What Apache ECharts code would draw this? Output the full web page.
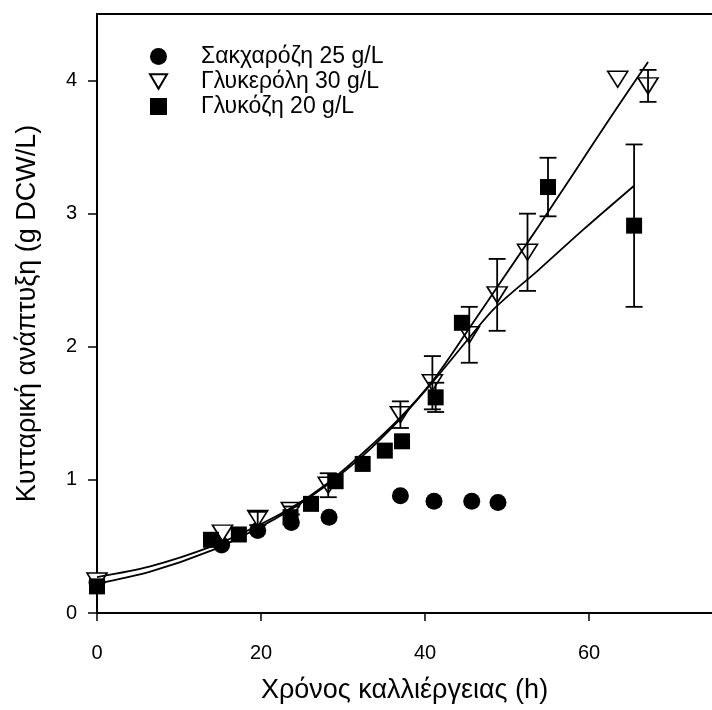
<!DOCTYPE html>
<html>
<head>
<meta charset="utf-8">
<script src="https://cdn.jsdelivr.net/npm/echarts@6/dist/echarts.min.js"></script>
<style>
html, body { margin: 0; padding: 0; background: #fff; }
#chart { width: 712px; height: 710px; }
</style>
</head>
<body>
<div id="chart"></div>
<script>
var FONT = '"Liberation Sans", Arial, sans-serif';

// axis ticks
var xTicks = [0, 20, 40, 60];
var yTicks = [0, 1, 2, 3, 4];

// legend names
var names = ['Σακχαρόζη 25 g/L', 'Γλυκερόλη 30 g/L', 'Γλυκόζη 20 g/L'];

// sucrose 25 g/L
var sucroseX = [0, 15.2, 19.6, 23.7, 28.3, 37.0, 41.1, 45.7, 48.9];
var sucroseY = [0.23, 0.51, 0.62, 0.68, 0.72, 0.88, 0.84, 0.84, 0.83];

// glycerol 30 g/L
var glycerolX = [0, 15.3, 19.6, 23.7, 28.2, 37.0, 40.9, 45.4, 48.8, 52.5, 63.5, 67.2];
var glycerolY = [0.24, 0.60, 0.71, 0.77, 0.96, 1.49, 1.73, 2.09, 2.39, 2.71, 4.01, 3.96];
var glycerolErr = [0, 0, 0.05, 0.03, 0.09, 0.10, 0.20, 0.21, 0.27, 0.29, 0, 0.12];

// glucose 20 g/L
var glucoseX = [0, 13.9, 17.3, 23.6, 26.1, 29.1, 32.4, 35.1, 37.2, 41.3, 44.5, 55.0, 65.5];
var glucoseY = [0.20, 0.55, 0.59, 0.72, 0.82, 0.99, 1.12, 1.22, 1.29, 1.62, 2.18, 3.20, 2.91];
var glucoseErr = [0, 0, 0, 0, 0, 0, 0, 0, 0, 0.11, 0, 0.22, 0.61];

// fitted curves
var glycerolFitX = [0, 6.5, 14, 19.4, 23.7, 28, 32.4, 36.7, 41, 45.3, 49.6, 53.9, 58.2, 62.6, 67.2];
var glycerolFitY = [0.27, 0.35, 0.50, 0.65, 0.79, 0.97, 1.20, 1.45, 1.75, 2.13, 2.52, 2.91, 3.31, 3.72, 4.14];
var glucoseFitX = [0, 6.5, 14, 19.4, 23.7, 28, 32.4, 36.7, 41, 45.3, 48.5, 53.9, 59.3, 65.5];
var glucoseFitY = [0.22, 0.31, 0.47, 0.63, 0.78, 0.96, 1.18, 1.44, 1.74, 2.06, 2.29, 2.58, 2.88, 3.21];

var TRIANGLE = 'path://M0,0L20,0L10,17Z';

function pairs(xs, ys) {
    var out = [];
    for (var i = 0; i < xs.length; i++) out.push([xs[i], ys[i]]);
    return out;
}

function errorBars(xs, ys, errs) {
    var data = [];
    for (var i = 0; i < xs.length; i++) {
        if (errs[i] > 0) data.push([xs[i], ys[i], errs[i]]);
    }
    return {
        type: 'custom',
        data: data,
        z: 6,
        silent: true,
        encode: { x: 0, y: 1 },
        renderItem: function (params, api) {
            var x = api.value(0), y = api.value(1), e = api.value(2);
            var top = api.coord([x, y + e]);
            var bot = api.coord([x, y - e]);
            var hw = 8.5;
            var style = { stroke: '#000', lineWidth: 1.8 };
            return {
                type: 'group',
                children: [
                    { type: 'line', shape: { x1: top[0], y1: top[1], x2: bot[0], y2: bot[1] }, style: style },
                    { type: 'line', shape: { x1: top[0] - hw, y1: top[1], x2: top[0] + hw, y2: top[1] }, style: style },
                    { type: 'line', shape: { x1: bot[0] - hw, y1: bot[1], x2: bot[0] + hw, y2: bot[1] }, style: style }
                ]
            };
        }
    };
}

function fitLine(xs, ys) {
    return {
        type: 'line',
        data: pairs(xs, ys),
        smooth: 0.3,
        symbol: 'none',
        z: 5,
        silent: true,
        lineStyle: { color: '#000', width: 1.8 }
    };
}

var chart = echarts.init(document.getElementById('chart'));

chart.setOption({
    animation: false,
    backgroundColor: '#fff',
    textStyle: { fontFamily: FONT },
    grid: { left: 97, top: 14, width: 621, height: 599, containLabel: false },
    legend: {
        data: names,
        orient: 'vertical',
        left: 144,
        top: 40,
        itemWidth: 17,
        itemHeight: 17,
        itemGap: 2,
        selectedMode: false,
        textStyle: { fontFamily: FONT, fontSize: 23, color: '#000', padding: [0, 0, 0, 29] }
    },
    xAxis: [{
        type: 'value',
        min: 0,
        max: 75,
        position: 'bottom',
        name: 'Χρόνος καλλιέργειας (h)',
        nameLocation: 'middle',
        nameGap: 64,
        nameTextStyle: { fontFamily: FONT, fontSize: 27, color: '#000' },
        axisLine: { onZero: false, lineStyle: { color: '#000', width: 2 } },
        axisTick: { customValues: xTicks, length: 8, lineStyle: { color: '#000', width: 1.5 } },
        axisLabel: { customValues: xTicks, margin: 30, fontFamily: FONT, fontSize: 20, color: '#000' },
        splitLine: { show: false }
    }, {
        type: 'value',
        min: 0,
        max: 75,
        position: 'top',
        axisLine: { onZero: false, lineStyle: { color: '#000', width: 2 } },
        axisTick: { show: false },
        axisLabel: { show: false },
        splitLine: { show: false }
    }],
    yAxis: {
        type: 'value',
        min: 0,
        max: 4.5,
        name: 'Κυτταρική ανάπτυξη (g DCW/L)',
        nameLocation: 'middle',
        nameGap: 56,
        nameTextStyle: { fontFamily: FONT, fontSize: 27, color: '#000' },
        axisLine: { onZero: false, lineStyle: { color: '#000', width: 2 } },
        axisTick: { customValues: yTicks, length: 9, lineStyle: { color: '#000', width: 1.5 } },
        axisLabel: { customValues: yTicks, margin: 20, fontFamily: FONT, fontSize: 20, color: '#000' },
        splitLine: { show: false }
    },
    series: [{
        name: names[0],
        type: 'scatter',
        data: pairs(sucroseX, sucroseY),
        symbol: 'circle',
        symbolSize: 17,
        z: 2,
        itemStyle: { color: '#000', opacity: 1 }
    }, {
        name: names[1],
        type: 'scatter',
        data: pairs(glycerolX, glycerolY),
        symbol: TRIANGLE,
        symbolSize: [20, 16],
        z: 3,
        itemStyle: { color: '#fff', borderColor: '#000', borderWidth: 1.6, opacity: 1 }
    }, {
        name: names[2],
        type: 'scatter',
        data: pairs(glucoseX, glucoseY),
        symbol: 'rect',
        symbolSize: 16,
        z: 4,
        itemStyle: { color: '#000', opacity: 1 }
    },
    fitLine(glycerolFitX, glycerolFitY),
    fitLine(glucoseFitX, glucoseFitY),
    errorBars(glycerolX, glycerolY, glycerolErr),
    errorBars(glucoseX, glucoseY, glucoseErr)]
});
</script>
</body>
</html>
